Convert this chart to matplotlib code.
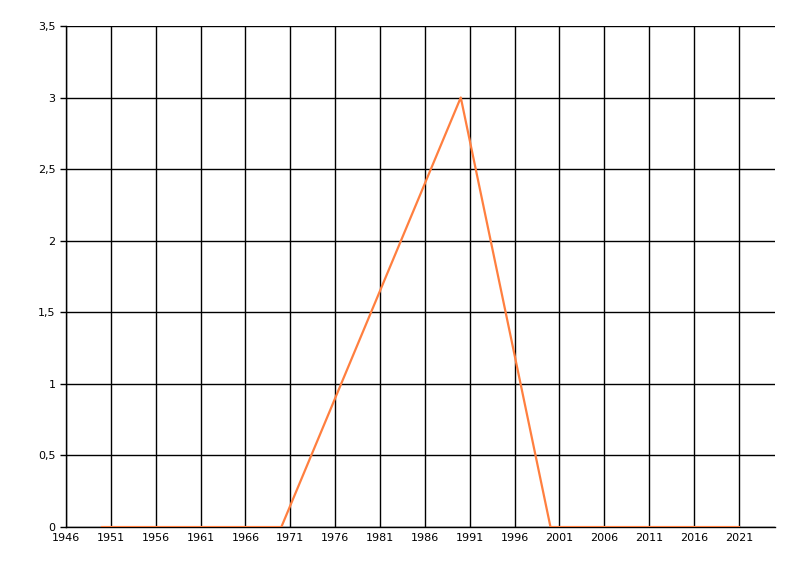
import matplotlib
matplotlib.use("Agg")
import matplotlib.pyplot as plt
from matplotlib.ticker import FuncFormatter

years = [1950, 1970, 1990, 2000, 2015, 2021]
values = [0, 0, 3, 0, 0, 0]

xticks = list(range(1946, 2022, 5))
yticks = [0, 0.5, 1, 1.5, 2, 2.5, 3, 3.5]

fig = plt.figure(figsize=(8, 5.76), dpi=100)
ax = fig.add_axes([0.0825, 0.085, 0.886, 0.87])

ax.plot(years, values, color="#FF7F3F", lw=1.6, zorder=3)

ax.set_xlim(1946, 2025)
ax.set_ylim(0, 3.5)
ax.set_xticks(xticks)
ax.set_yticks(yticks)
ax.yaxis.set_major_formatter(FuncFormatter(lambda v, p: f"{v:g}".replace(".", ",")))
ax.grid(True, color="black", lw=1)
ax.set_axisbelow(True)

for s in ["top", "right"]:
    ax.spines[s].set_visible(False)
ax.spines["left"].set_linewidth(1)
ax.spines["bottom"].set_linewidth(1)

ax.tick_params(axis="both", labelsize=8, length=4, width=1, colors="black")
ax.tick_params(axis="x", length=0, pad=4)

fig.savefig("out.png", dpi=100)
